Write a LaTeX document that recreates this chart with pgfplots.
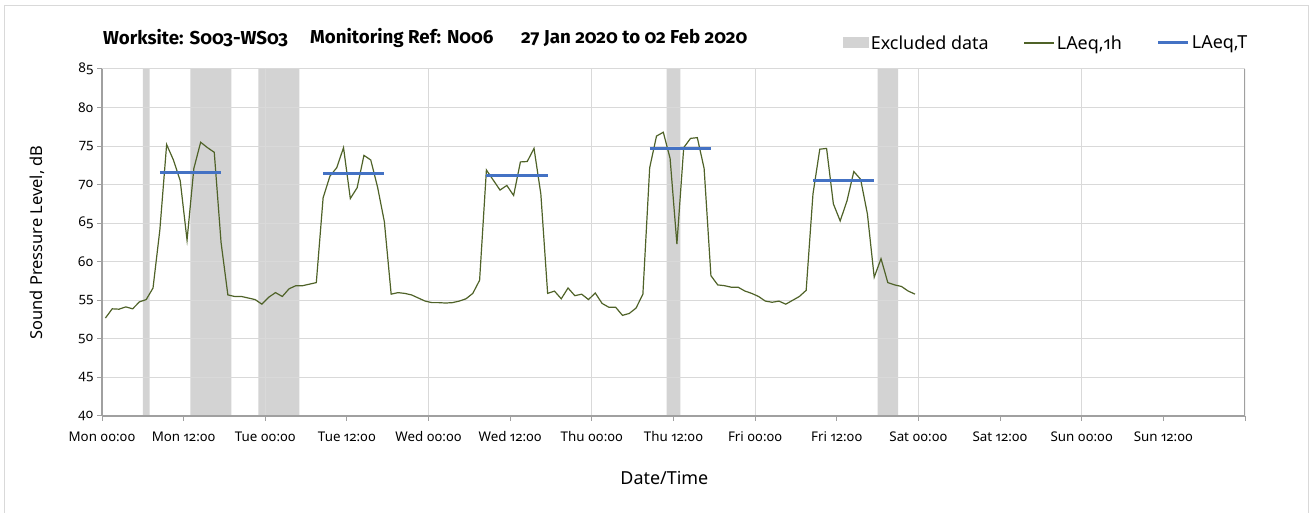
\documentclass[border=0pt]{standalone}
\usepackage{pgfplots}
\pgfplotsset{compat=1.18}
\usepackage{fontspec}
\setmainfont{Noto Sans}[Numbers={OldStyle,Proportional}]
\newfontfamily\titlefont{Fira Sans}[Numbers={OldStyle,Proportional}]

\definecolor{exc}{RGB}{211,211,211}
\definecolor{lgreen}{RGB}{79,98,40}
\definecolor{lblue}{RGB}{68,114,196}
\definecolor{gridc}{RGB}{217,217,217}
\definecolor{axc}{RGB}{160,160,160}
\definecolor{bord}{RGB}{217,217,217}

\begin{document}
\begin{tikzpicture}
\path (0bp,0bp) rectangle (1309bp,513bp);
\draw[bord, line width=1bp] (4.5bp,0.5bp) -- (4.5bp,507.5bp) -- (1308bp,507.5bp) -- (1308bp,0.5bp);
\node[anchor=west, font=\titlefont\bfseries\fontsize{18.8}{21}\selectfont, inner sep=0pt] at (103bp,475bp) {Worksite: S003-WS03};
\node[anchor=west, font=\titlefont\bfseries\fontsize{18.8}{21}\selectfont, inner sep=0pt] at (310bp,475bp) {Monitoring Ref: N006};
\node[anchor=west, font=\titlefont\bfseries\fontsize{18.8}{21}\selectfont, inner sep=0pt] at (521bp,475bp) {27 Jan 2020 to 02 Feb 2020};
\begin{axis}[
  at={(102bp,97bp)}, anchor=south west,
  scale only axis, width=1143bp, height=347bp,
  xmin=0, xmax=168, ymin=40, ymax=85,
  set layers,
  axis x line*=bottom, axis y line*=left,
  axis line style={-, axc, line width=1.5bp},
  xtick={0,12,...,168},
  xticklabels={Mon 00:00, Mon 12:00, Tue 00:00, Tue 12:00, Wed 00:00, Wed 12:00, Thu 00:00, Thu 12:00, Fri 00:00, Fri 12:00, Sat 00:00, Sat 12:00, Sun 00:00, Sun 12:00, {}},
  minor xtick={24,48,...,144},
  xminorgrids,
  ytick={40,45,...,85},
  ymajorgrids,
  major grid style={gridc, line width=1bp},
  minor grid style={gridc, line width=1bp},
  minor tick length=0pt,
  major tick length=5bp,
  tick align=outside,
  xtick pos=bottom, ytick pos=left,
  tick style={axc, line width=1bp},
  tick label style={font=\fontsize{13.4}{15}\selectfont, black},
  xticklabel style={yshift=-7bp},
  /pgf/number format/assume math mode=true,
  xlabel={Date/Time}, ylabel={Sound Pressure Level, dB},
  xlabel style={font=\fontsize{18}{20}\selectfont, at={(axis description cs:0.492,-0.179)}, anchor=center},
  ylabel style={font=\fontsize{16.5}{19}\selectfont, at={(axis description cs:-0.0569,0.5)}, anchor=center},
  legend columns=3,
  legend style={at={(axis description cs:0.826,1.075)}, anchor=center, draw=none, fill=none,
    font=\fontsize{18}{21}\selectfont,
    /tikz/every even column/.append style={column sep=33bp}},
]
\addplot[fill=exc, draw=none, on layer=axis background,
  legend image code/.code={\fill[exc] (0bp,-5.5bp) rectangle (26bp,5.5bp);}]
  coordinates {(6,40)(6,85)(7,85)(7,40)} \closedcycle;
\addlegendentry{Excluded data}
\addplot[fill=exc, draw=none, on layer=axis background, forget plot]
  coordinates {(13,40)(13,85)(19,85)(19,40)} \closedcycle;
\addplot[fill=exc, draw=none, on layer=axis background, forget plot]
  coordinates {(23,40)(23,85)(29,85)(29,40)} \closedcycle;
\addplot[fill=exc, draw=none, on layer=axis background, forget plot]
  coordinates {(83,40)(83,85)(85,85)(85,40)} \closedcycle;
\addplot[fill=exc, draw=none, on layer=axis background, forget plot]
  coordinates {(114,40)(114,85)(117,85)(117,40)} \closedcycle;

\addplot[lgreen, line width=1.2bp,
  legend image code/.code={\draw[lgreen, line width=1.2bp] (0bp,0bp) -- (30bp,0bp);}]
  coordinates {
(0.5,52.7)(1.5,53.9)(2.5,53.85)(3.5,54.15)(4.5,53.9)(5.5,54.8)(6.5,55.1)(7.5,56.6)
(8.5,64.1)(9.5,75.2)(10.5,73.2)(11.5,70.5)(12.5,62.8)(13.5,72.1)(14.5,75.5)(15.5,74.8)
(16.5,74.2)(17.5,62.5)(18.5,55.7)(19.5,55.5)(20.5,55.5)(21.5,55.3)(22.5,55.1)(23.5,54.5)
(24.5,55.4)(25.5,56.0)(26.5,55.5)(27.5,56.5)(28.5,56.9)(29.5,56.9)(30.5,57.1)(31.5,57.3)
(32.5,68.3)(33.5,71.1)(34.5,72.2)(35.5,74.8)(36.5,68.2)(37.5,69.6)(38.5,73.8)(39.5,73.2)
(40.5,69.7)(41.5,65.2)(42.5,55.8)(43.5,56.0)(44.5,55.9)(45.5,55.7)(46.5,55.3)(47.5,54.9)
(48.5,54.7)(49.5,54.7)(50.5,54.65)(51.5,54.7)(52.5,54.9)(53.5,55.2)(54.5,55.9)(55.5,57.6)
(56.5,71.9)(57.5,70.6)(58.5,69.3)(59.5,69.9)(60.5,68.6)(61.5,72.95)(62.5,73.0)(63.5,74.7)
(64.5,68.8)(65.5,55.9)(66.5,56.2)(67.5,55.2)(68.5,56.6)(69.5,55.6)(70.5,55.8)(71.5,55.1)
(72.5,55.95)(73.5,54.6)(74.5,54.1)(75.5,54.1)(76.5,53.05)(77.5,53.3)(78.5,54.0)(79.5,55.8)
(80.5,72.2)(81.5,76.3)(82.5,76.8)(83.5,73.4)(84.5,62.3)(85.5,74.8)(86.5,76.0)(87.5,76.1)
(88.5,72.1)(89.5,58.2)(90.5,57.0)(91.5,56.9)(92.5,56.7)(93.5,56.7)(94.5,56.2)(95.5,55.9)
(96.5,55.5)(97.5,54.9)(98.5,54.75)(99.5,54.9)(100.5,54.5)(101.5,55.0)(102.5,55.5)(103.5,56.3)
(104.5,68.8)(105.5,74.6)(106.5,74.7)(107.5,67.5)(108.5,65.3)(109.5,67.9)(110.5,71.7)(111.5,70.7)
(112.5,66.2)(113.5,58.0)(114.5,60.4)(115.5,57.3)(116.5,57.0)(117.5,56.8)(118.5,56.2)(119.5,55.8)
  };
\addlegendentry{LAeq,1h}

\addplot[lblue, line width=3bp, unbounded coords=jump,
  legend image code/.code={\draw[lblue, line width=3bp] (0bp,0bp) -- (30bp,0bp);}]
  coordinates {
(8.5,71.6)(17.5,71.6)(25,nan)
(32.5,71.5)(41.5,71.5)(50,nan)
(56.5,71.2)(65.5,71.2)(72,nan)
(80.5,74.65)(89.5,74.65)(97,nan)
(104.5,70.5)(113.5,70.5)
  };
\addlegendentry{LAeq,T}

\draw[axc, line width=1.5bp] (rel axis cs:1,0) -- (rel axis cs:1,1);
\end{axis}
\end{tikzpicture}
\end{document}
